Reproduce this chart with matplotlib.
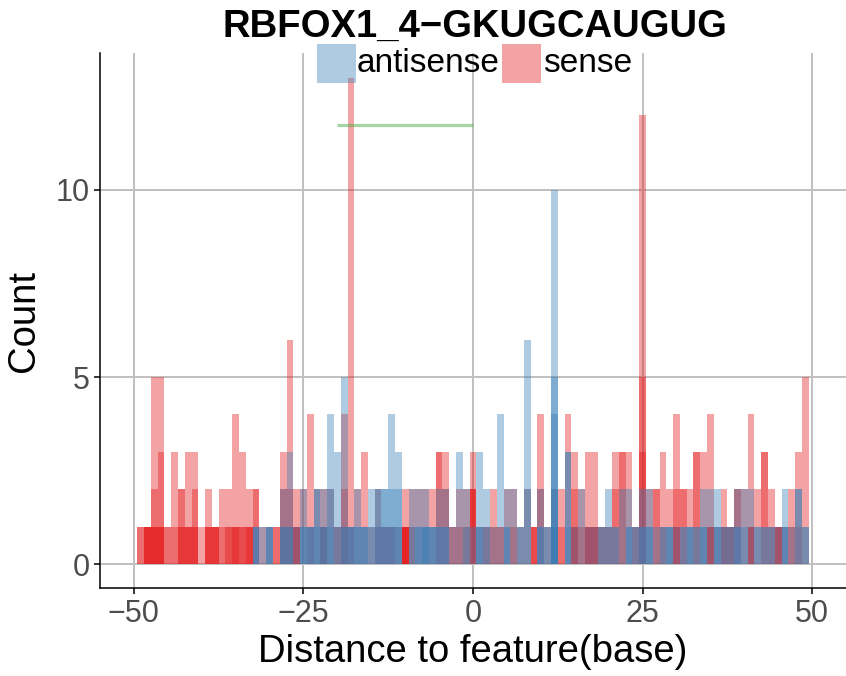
import matplotlib
matplotlib.use("Agg")
import matplotlib.pyplot as plt
from matplotlib.patches import Rectangle

plt.rcParams['font.family'] = ['Liberation Sans', 'DejaVu Sans']

# positions of the bins (distance to feature, in bases)
positions = list(range(-49, 50))

# overlapping bar heights at each position (one list per position)
sense_bars = [
    [1, 1], [1, 1, 1, 1, 1], [5, 2, 1, 1, 1], [5, 3, 1, 1, 1], [1, 1],        # -49..-45
    [3, 1], [2, 2, 1, 1], [3, 1, 1, 1], [3, 2, 1, 1], [1],                    # -44..-40
    [2, 1, 1, 1], [1, 1, 1, 1], [2, 1], [2, 1, 1], [4, 1, 1, 1],              # -39..-35
    [3, 1, 1], [2, 1, 1, 1], [2, 2], [1], [1],                                # -34..-30
    [1, 1], [3, 2, 1], [6, 2, 1], [2, 1, 1, 1], [2],                          # -29..-25
    [4, 1], [2], [2, 1, 1], [2], [1, 1],                                      # -24..-20
    [4, 2, 1], [13, 1], [2], [3], [1],                                        # -19..-15
    [2, 1], [1, 1], [1, 1], [1], [2, 1, 1, 1, 1, 1],                          # -14..-10
    [2, 1], [2], [2], [2], [3, 3],                                            # -9..-5
    [3, 2], [1, 1], [2, 1], [2, 1], [3, 2, 2, 2],                             # -4..0
    [1], [1, 1], [2, 1], [1, 1], [2],                                         # 1..5
    [2, 1], [1], [2], [1, 1, 1], [4, 2],                                      # 6..10
    [1], [2, 1], [2, 1], [4], [3, 2, 1, 1],                                   # 11..15
    [2, 1], [3, 1, 1, 1], [3, 1, 1, 1], [1, 1], [1, 1],                       # 16..20
    [3, 2], [3, 3], [3], [1, 1], [12, 5, 3],                                  # 21..25
    [2], [2, 2], [3, 1], [2], [4, 2, 1, 1],                                   # 26..30
    [2, 2], [2], [3, 3], [3], [4, 1, 1, 1],                                   # 31..35
    [1], [2, 1, 1], [1, 1, 1], [2, 2], [2],                                   # 36..40
    [4, 1, 1, 1], [2], [3, 3], [2, 1], [1, 1, 1, 1],                          # 41..45
    [1], [2, 1], [3, 1], [5],                                                 # 46..49
]

antisense_bars = [[] for _ in range(17)] + [                                  # -49..-33
    [1, 1, 1], [1], [1, 1, 1], [], [2, 1, 1],                                 # -32..-28
    [3, 1, 1], [1], [2, 1, 1], [1, 1, 1], [2, 2, 1],                          # -27..-23
    [2, 1, 1], [4, 2, 1], [3, 1], [5, 1, 1], [1, 1, 1],                       # -22..-18
    [2, 1, 1], [1, 1, 1], [2, 1], [2, 2, 1], [2, 2, 1],                       # -17..-13
    [4, 2, 1], [3, 2, 1], [], [2, 1], [2, 1, 1],                              # -12..-8
    [2, 1, 1, 1], [1, 1, 1], [2, 1, 1], [2, 1, 1], [1],                       # -7..-3
    [3], [2, 1], [1], [3, 1, 1], [2, 1],                                      # -2..2
    [1], [4], [2, 1, 1], [2], [1, 1],                                         # 3..7
    [6, 2], [], [2, 1, 1], [1, 1], [10, 5, 4, 2, 1, 1],                       # 8..12
    [], [3, 3, 1], [1], [2], [1],                                             # 13..17
    [1], [1, 1], [2, 1], [1, 1], [2],                                         # 18..22
    [2, 1, 1], [1, 1], [2, 1, 1], [2, 1, 1], [1],                             # 23..27
    [1, 1], [1, 1, 1], [1], [1, 1], [1, 1, 1],                                # 28..32
    [1, 1], [2, 1, 1], [2], [2, 1, 1], [1, 1],                                # 33..37
    [1, 1], [2, 1, 1], [2, 1], [2], [1, 1],                                   # 38..42
    [1, 1], [1, 1], [1], [2, 1, 1], [1],                                      # 43..47
    [2, 2], [1, 1],                                                           # 48..49
]

motif_start, motif_end, motif_y = -20, 0, 11.75

sense_col = '#E41A1C'
anti_col = '#377EB8'

fig = plt.figure(figsize=(8.46, 6.76), dpi=100)
ax = fig.add_axes([100 / 846, 0.1297, 1 - 100 / 846, 0.9209 - 0.1297])

# flatten the layered bars
sx, sh = [], []
for p, hs in zip(positions, sense_bars):
    for h in hs:
        sx.append(p)
        sh.append(h)
ax_, ah = [], []
for p, hs in zip(positions, antisense_bars):
    for h in hs:
        ax_.append(p)
        ah.append(h)

ax.bar(sx, sh, width=1.0, color=sense_col, alpha=0.4, linewidth=0, zorder=2)
ax.bar(ax_, ah, width=1.0, color=anti_col, alpha=0.4, linewidth=0, zorder=3)

ax.plot([motif_start, motif_end], [motif_y, motif_y], color='#4DAF4A', alpha=0.5,
        linewidth=2.3, solid_capstyle='butt', zorder=4)

ax.set_xlim(-55, 55)
ax.set_ylim(-0.65, 13.65)
ax.set_xticks([-50, -25, 0, 25, 50])
ax.set_yticks([0, 5, 10])
ax.grid(True, color='#C0C0C0', linewidth=1.4, zorder=0)
ax.set_axisbelow(True)

for s in ['top', 'right']:
    ax.spines[s].set_visible(False)
for s in ['left', 'bottom']:
    ax.spines[s].set_linewidth(1.1)
    ax.spines[s].set_color('black')
ax.tick_params(axis='both', length=4.5, width=1.1, colors='black',
               labelsize=22, labelcolor='#4D4D4D', pad=3)

ax.set_xlabel('Distance to feature(base)', fontsize=27.5, labelpad=4)
ax.set_ylabel('Count', fontsize=27.5, labelpad=10)

fig.text(0.561, 0.96, 'RBFOX1_4\u2212GKUGCAUGUG', fontsize=27.5, fontweight='bold',
         ha='center', va='center')

# legend at the top
fig.patches.append(Rectangle((317 / 846, 1 - 83 / 676), 39 / 846, 39 / 676,
                             transform=fig.transFigure, color=anti_col, alpha=0.4,
                             linewidth=0))
fig.patches.append(Rectangle((502 / 846, 1 - 83 / 676), 39 / 846, 39 / 676,
                             transform=fig.transFigure, color=sense_col, alpha=0.4,
                             linewidth=0))
fig.text(357 / 846, 1 - 64 / 676, 'antisense', fontsize=24, ha='left', va='center')
fig.text(543 / 846, 1 - 64 / 676, 'sense', fontsize=24, ha='left', va='center')

fig.savefig('out.png', dpi=100)
